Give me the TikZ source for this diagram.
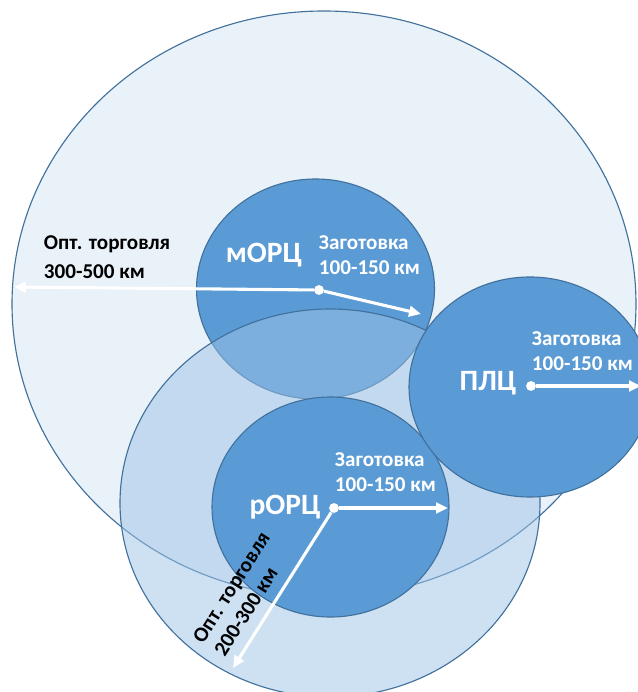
\documentclass[tikz,border=0pt]{standalone}
\usepackage{fontspec}
\setmainfont{Carlito}
\usetikzlibrary{arrows.meta}
\definecolor{rimblue}{HTML}{41719C}
\definecolor{paleblue}{HTML}{E9F1F9}
\definecolor{hubblue}{HTML}{5B9BD5}
\definecolor{zoneblue}{HTML}{9DC3E6}
\tikzset{
  zone/.style={draw=rimblue, line width=0.8pt},
  hub/.style={circle, fill=white, inner sep=0pt, minimum size=7pt},
  reach/.style={draw=white, line width=2.2pt, -{Triangle[length=8.5pt,width=7.5pt]}},
  txt/.style={font=\bfseries\fontsize{15}{18}\selectfont, align=left},
  hubname/.style={font=\bfseries\fontsize{21}{24}\selectfont, text=white}
}

\begin{document}
\begin{tikzpicture}[x=0.025cm, y=-0.025cm]
		\useasboundingbox (0,0) rectangle (638,692);
		\clip (0,0) rectangle (638,692);
		\draw[zone, fill=paleblue] (324,304) ellipse [x radius=312, y radius=293];
		\draw[zone, fill=hubblue] (315.5,289) ellipse [x radius=119, y radius=110];
		\draw[zone, fill=zoneblue, fill opacity=0.5] (330,503) ellipse [x radius=210, y radius=194];
		\draw[zone, fill=hubblue] (330.5,507) ellipse [x radius=118.5, y radius=110];
		\draw[zone, fill=hubblue] (530,387) ellipse [x radius=121, y radius=110];
		\node[hub] (morc) at (319,290) {};
		\node[hub] (plc) at (531,386) {};
		\node[hub] (rorc) at (334,508) {};
		\coordinate (morcfar) at (14,287);
		\coordinate (morcnear) at (421,314);
		\coordinate (plcnear) at (641,386);
		\coordinate (rorcnear) at (448,508);
		\coordinate (rorcfar) at (233,668);
		\draw[reach] (morc) -- (morcfar);
		\draw[reach] (morc) -- (morcnear);
		\draw[reach] (plc) -- (plcnear);
		\draw[reach] (rorc) -- (rorcnear);
		\draw[reach] (rorc) -- (rorcfar);
		\node[hubname] (morcname) at (264,255) {мОРЦ};
		\node[hubname] (plcname) at (488,383) {ПЛЦ};
		\node[hubname] (rorcname) at (285,507) {рОРЦ};
		\node[txt, text=white, anchor=west] (morcprep) at (314,255) {Заготовка\\ 100-150 км};
		\node[txt, text=white, anchor=west] (plcprep) at (527,351) {Заготовка\\ 100-150 км};
		\node[txt, text=white, anchor=west] (rorcprep) at (330,472) {Заготовка\\ 100-150 км};
		\node[txt, font=\bfseries\fontsize{15}{21}\selectfont, anchor=west] (morctrade) at (39,257) {Опт. торговля\\ 300-500 км};
		\node[txt, rotate=57.7] (rorctrade) at (242,594) {Опт. торговля\\ 200-300 км};
\end{tikzpicture}
\end{document}
